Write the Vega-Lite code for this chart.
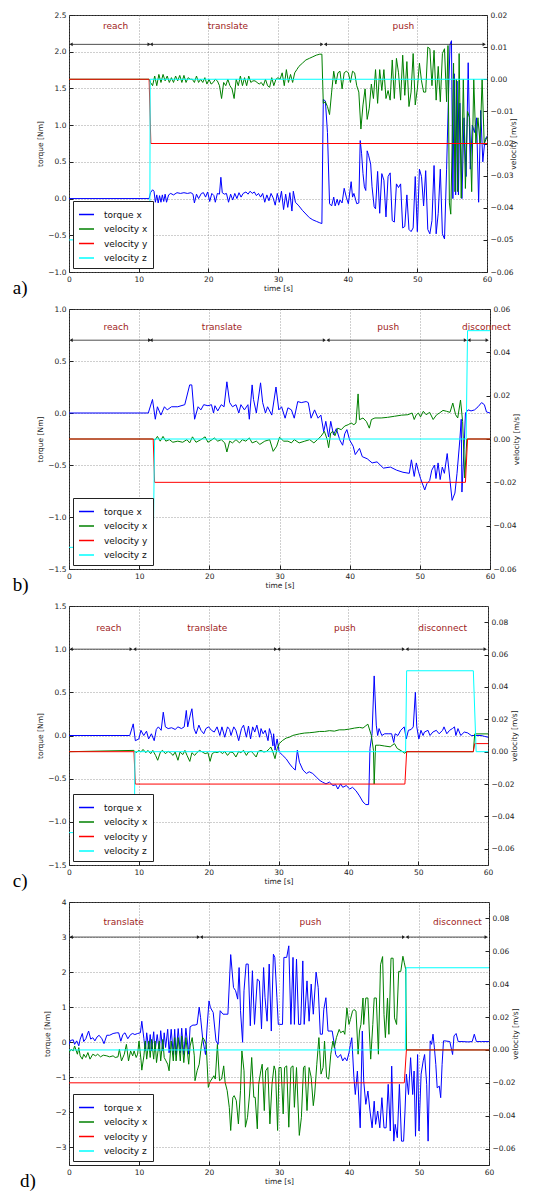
{
"$schema":"https://vega.github.io/schema/vega-lite/v6.json",
"padding":{"left":12,"top":10,"right":0,"bottom":0},
"config":{
 "font":"DejaVu Sans",
 "view":{"stroke":"#222","strokeWidth":1},
 "axis":{"labelFont":"DejaVu Sans","labelFontSize":7.5,"labelColor":"#222","titleFont":"DejaVu Sans","titleFontSize":7.5,"titleFontWeight":"normal","titleColor":"#222","domain":false,"tickColor":"#222","tickSize":-4,"labelPadding":7,"titlePadding":3,"gridColor":"#777","gridDash":[1,2],"gridWidth":0.7,"labelOverlap":false,"labelFlush":false},
 "axisX":{"grid":true,"titlePadding":2},
 "axisRight":{"titlePadding":5},
 "legend":{"orient":"bottom-left","offset":4,"title":null,"fillColor":"white","strokeColor":"#222","padding":5,"symbolType":"stroke","symbolSize":225,"symbolStrokeWidth":1.5,"labelFontSize":9,"labelFont":"DejaVu Sans","labelColor":"#111","rowPadding":0.5,"labelOffset":9},
 "title":{"orient":"bottom","anchor":"start","frame":"bounds","font":"Liberation Serif","fontSize":19,"fontWeight":"normal","color":"#000","offset":-13,"dx":-24}
},
"datasets":{
"ph":[
{"p":"a","n":"reach","t0":0.3,"t1":11.5,"lx":6.7,"ay":2.1,"ly":2.35},
{"p":"a","n":"translate","t0":11.8,"t1":36.3,"lx":22.8,"ay":2.1,"ly":2.35},
{"p":"a","n":"push","t0":36.8,"t1":59.6,"lx":48.0,"ay":2.1,"ly":2.35},
{"p":"b","n":"reach","t0":0.3,"t1":11.5,"lx":6.7,"ay":0.7,"ly":0.83},
{"p":"b","n":"translate","t0":11.7,"t1":36.4,"lx":21.8,"ay":0.7,"ly":0.83},
{"p":"b","n":"push","t0":36.9,"t1":56.5,"lx":45.5,"ay":0.7,"ly":0.83},
{"p":"b","n":"disconnect","t0":57.0,"t1":59.6,"lx":59.5,"ay":0.7,"ly":0.83},
{"p":"c","n":"reach","t0":0.3,"t1":8.9,"lx":5.7,"ay":1.0,"ly":1.24},
{"p":"c","n":"translate","t0":9.4,"t1":29.6,"lx":19.8,"ay":1.0,"ly":1.24},
{"p":"c","n":"push","t0":30.0,"t1":47.9,"lx":39.5,"ay":1.0,"ly":1.24},
{"p":"c","n":"disconnect","t0":48.4,"t1":59.6,"lx":53.5,"ay":1.0,"ly":1.24},
{"p":"d","n":"translate","t0":0.3,"t1":18.5,"lx":7.8,"ay":3,"ly":3.42},
{"p":"d","n":"push","t0":18.9,"t1":47.8,"lx":34.5,"ay":3,"ly":3.42},
{"p":"d","n":"disconnect","t0":48.3,"t1":59.6,"lx":55.5,"ay":3,"ly":3.42}
],
"a":[
{"s":"T","t":0,"v":0},{"s":"T","t":11.5,"v":0},{"s":"T","t":11.7,"v":0.08},{"s":"T","t":12,"v":0.12},{"s":"T","t":12.2,"v":0.1},{"s":"T","t":12.4,"v":-0.05},{"s":"T","t":12.6,"v":0.05},{"s":"T","t":12.8,"v":-0.06},{"s":"T","t":13,"v":0.04},{"s":"T","t":13.2,"v":-0.05},{"s":"T","t":13.4,"v":0.05},{"s":"T","t":13.6,"v":-0.04},{"s":"T","t":13.8,"v":0.06},{"s":"T","t":14,"v":-0.05},{"s":"T","t":14.3,"v":0.05},{"s":"T","t":14.6,"v":0.07},{"s":"T","t":15,"v":0.05},{"s":"T","t":15.5,"v":0.08},{"s":"T","t":16,"v":0.07},{"s":"T","t":16.5,"v":0.08},{"s":"T","t":17,"v":0.07},{"s":"T","t":17.5,"v":0.08},{"s":"T","t":17.8,"v":0.06},{"s":"T","t":18,"v":-0.06},{"s":"T","t":18.3,"v":0.06},{"s":"T","t":18.6,"v":0},{"s":"T","t":19,"v":0.07},{"s":"T","t":19.3,"v":0.08},{"s":"T","t":19.6,"v":0.02},{"s":"T","t":19.9,"v":0.09},{"s":"T","t":20.2,"v":-0.04},{"s":"T","t":20.5,"v":0.07},{"s":"T","t":20.8,"v":0.04},{"s":"T","t":21,"v":-0.05},{"s":"T","t":21.3,"v":0.07},{"s":"T","t":21.6,"v":0.06},{"s":"T","t":21.8,"v":0.29},{"s":"T","t":22,"v":0.08},{"s":"T","t":22.3,"v":0.06},{"s":"T","t":22.6,"v":0.07},{"s":"T","t":22.9,"v":-0.05},{"s":"T","t":23.2,"v":0.06},{"s":"T","t":23.5,"v":-0.02},{"s":"T","t":23.8,"v":0.07},{"s":"T","t":24.1,"v":0},{"s":"T","t":24.4,"v":0.08},{"s":"T","t":24.7,"v":0.02},{"s":"T","t":25,"v":0.07},{"s":"T","t":25.4,"v":0.09},{"s":"T","t":25.7,"v":0.06},{"s":"T","t":26,"v":0.1},{"s":"T","t":26.3,"v":0.07},{"s":"T","t":26.6,"v":0.09},{"s":"T","t":26.9,"v":0.04},{"s":"T","t":27.2,"v":0.07},{"s":"T","t":27.5,"v":0.02},{"s":"T","t":27.8,"v":0.07},{"s":"T","t":28.1,"v":-0.05},{"s":"T","t":28.4,"v":0.05},{"s":"T","t":28.7,"v":-0.03},{"s":"T","t":29,"v":0.07},{"s":"T","t":29.3,"v":0.01},{"s":"T","t":29.6,"v":-0.09},{"s":"T","t":29.9,"v":0.07},{"s":"T","t":30.2,"v":-0.05},{"s":"T","t":30.5,"v":0.1},{"s":"T","t":30.8,"v":-0.15},{"s":"T","t":31.1,"v":0.06},{"s":"T","t":31.4,"v":-0.12},{"s":"T","t":31.7,"v":0.08},{"s":"T","t":32,"v":-0.17},{"s":"T","t":32.2,"v":0.1},{"s":"T","t":32.5,"v":-0.05},{"s":"T","t":33,"v":-0.1},{"s":"T","t":33.5,"v":-0.16},{"s":"T","t":34,"v":-0.21},{"s":"T","t":34.5,"v":-0.26},{"s":"T","t":35,"v":-0.29},{"s":"T","t":35.5,"v":-0.31},{"s":"T","t":36,"v":-0.33},{"s":"T","t":36.3,"v":-0.34},{"s":"T","t":36.5,"v":1.35},{"s":"T","t":36.8,"v":1.33},{"s":"T","t":37.1,"v":0.9},{"s":"T","t":37.4,"v":-0.07},{"s":"T","t":37.7,"v":-0.1},{"s":"T","t":38,"v":0.02},{"s":"T","t":38.2,"v":-0.1},{"s":"T","t":38.5,"v":-0.01},{"s":"T","t":38.7,"v":-0.09},{"s":"T","t":38.9,"v":-0.02},{"s":"T","t":39.2,"v":-0.06},{"s":"T","t":39.5,"v":0.14},{"s":"T","t":39.8,"v":0.02},{"s":"T","t":40.1,"v":-0.07},{"s":"T","t":40.5,"v":0.23},{"s":"T","t":40.7,"v":0.02},{"s":"T","t":40.9,"v":0.07},{"s":"T","t":41.3,"v":-0.07},{"s":"T","t":41.6,"v":-0.06},{"s":"T","t":41.8,"v":0.79},{"s":"T","t":42,"v":0.61},{"s":"T","t":42.2,"v":0.34},{"s":"T","t":42.4,"v":0.16},{"s":"T","t":42.6,"v":0.11},{"s":"T","t":42.8,"v":0.65},{"s":"T","t":43,"v":0.59},{"s":"T","t":43.3,"v":0.47},{"s":"T","t":43.5,"v":0.16},{"s":"T","t":43.8,"v":-0.11},{"s":"T","t":44,"v":-0.14},{"s":"T","t":44.3,"v":0.37},{"s":"T","t":44.6,"v":-0.2},{"s":"T","t":44.9,"v":0.34},{"s":"T","t":45.2,"v":0.25},{"s":"T","t":45.5,"v":-0.25},{"s":"T","t":45.8,"v":0.3},{"s":"T","t":46.1,"v":0.35},{"s":"T","t":46.4,"v":-0.3},{"s":"T","t":46.7,"v":-0.32},{"s":"T","t":47,"v":0.2},{"s":"T","t":47.3,"v":0.15},{"s":"T","t":47.6,"v":0.2},{"s":"T","t":47.9,"v":-0.4},{"s":"T","t":48.2,"v":-0.38},{"s":"T","t":48.5,"v":0.05},{"s":"T","t":48.8,"v":-0.42},{"s":"T","t":49.1,"v":-0.45},{"s":"T","t":49.4,"v":-0.4},{"s":"T","t":49.7,"v":0.3},{"s":"T","t":50,"v":-0.45},{"s":"T","t":50.3,"v":0.4},{"s":"T","t":50.6,"v":0.3},{"s":"T","t":50.9,"v":-0.1},{"s":"T","t":51.2,"v":0.38},{"s":"T","t":51.5,"v":-0.42},{"s":"T","t":51.8,"v":-0.48},{"s":"T","t":52.1,"v":-0.3},{"s":"T","t":52.4,"v":0.45},{"s":"T","t":52.7,"v":-0.48},{"s":"T","t":53,"v":-0.2},{"s":"T","t":53.3,"v":0.4},{"s":"T","t":53.6,"v":-0.48},{"s":"T","t":53.9,"v":-0.55},{"s":"T","t":54.2,"v":0.4},{"s":"T","t":54.5,"v":1.5},{"s":"T","t":54.7,"v":2.1},{"s":"T","t":54.9,"v":2.15},{"s":"T","t":55.1,"v":0},{"s":"T","t":55.3,"v":1.7},{"s":"T","t":55.5,"v":0.05},{"s":"T","t":55.7,"v":1.6},{"s":"T","t":55.9,"v":0.05},{"s":"T","t":56.1,"v":1.3},{"s":"T","t":56.4,"v":0},{"s":"T","t":56.7,"v":1.1},{"s":"T","t":57,"v":0.3},{"s":"T","t":57.3,"v":1.85},{"s":"T","t":57.6,"v":0.4},{"s":"T","t":57.9,"v":1},{"s":"T","t":58.2,"v":0.9},{"s":"T","t":58.5,"v":1.1},{"s":"T","t":58.8,"v":-0.05},{"s":"T","t":59.1,"v":1.2},{"s":"T","t":59.4,"v":0.5},{"s":"T","t":59.7,"v":0.8},{"s":"T","t":60,"v":0.85},
{"s":"X","t":0,"v":0},{"s":"X","t":11.5,"v":0},{"s":"X","t":11.7,"v":-0.001},{"s":"X","t":12,"v":-0.002},{"s":"X","t":12.3,"v":0.001},{"s":"X","t":12.6,"v":-0.002},{"s":"X","t":12.9,"v":0.0015},{"s":"X","t":13.2,"v":-0.001},{"s":"X","t":13.5,"v":0.0015},{"s":"X","t":13.8,"v":-0.0005},{"s":"X","t":14.1,"v":0.001},{"s":"X","t":14.4,"v":-0.001},{"s":"X","t":14.7,"v":0.0005},{"s":"X","t":15,"v":-0.001},{"s":"X","t":15.3,"v":0.001},{"s":"X","t":15.6,"v":-0.0005},{"s":"X","t":15.9,"v":0.0012},{"s":"X","t":16.2,"v":-0.001},{"s":"X","t":16.5,"v":0.0012},{"s":"X","t":16.8,"v":-0.001},{"s":"X","t":17.1,"v":0.0005},{"s":"X","t":17.4,"v":0},{"s":"X","t":17.7,"v":0},{"s":"X","t":18,"v":-0.001},{"s":"X","t":18.3,"v":0.001},{"s":"X","t":18.6,"v":-0.001},{"s":"X","t":18.9,"v":0},{"s":"X","t":19.2,"v":-0.001},{"s":"X","t":19.5,"v":0.0005},{"s":"X","t":19.8,"v":-0.0015},{"s":"X","t":20.1,"v":0},{"s":"X","t":20.4,"v":-0.0015},{"s":"X","t":20.7,"v":-0.001},{"s":"X","t":21,"v":0},{"s":"X","t":21.3,"v":-0.0005},{"s":"X","t":21.6,"v":-0.002},{"s":"X","t":21.9,"v":-0.006},{"s":"X","t":22.2,"v":-0.001},{"s":"X","t":22.5,"v":-0.002},{"s":"X","t":22.8,"v":0},{"s":"X","t":23.1,"v":-0.002},{"s":"X","t":23.4,"v":-0.003},{"s":"X","t":23.7,"v":-0.006},{"s":"X","t":24,"v":0},{"s":"X","t":24.3,"v":-0.002},{"s":"X","t":24.6,"v":0.001},{"s":"X","t":24.9,"v":-0.002},{"s":"X","t":25.2,"v":0.0005},{"s":"X","t":25.5,"v":-0.002},{"s":"X","t":25.8,"v":0.001},{"s":"X","t":26.1,"v":-0.001},{"s":"X","t":26.4,"v":-0.0005},{"s":"X","t":26.7,"v":-0.0005},{"s":"X","t":27,"v":-0.001},{"s":"X","t":27.3,"v":-0.0015},{"s":"X","t":27.6,"v":-0.001},{"s":"X","t":27.9,"v":-0.002},{"s":"X","t":28.2,"v":0},{"s":"X","t":28.5,"v":-0.002},{"s":"X","t":28.8,"v":-0.0025},{"s":"X","t":29.1,"v":0.0005},{"s":"X","t":29.4,"v":-0.002},{"s":"X","t":29.7,"v":0},{"s":"X","t":30,"v":0.0005},{"s":"X","t":30.3,"v":0},{"s":"X","t":30.6,"v":0.002},{"s":"X","t":30.9,"v":-0.002},{"s":"X","t":31.2,"v":0.003},{"s":"X","t":31.5,"v":-0.001},{"s":"X","t":31.8,"v":0.0015},{"s":"X","t":32.1,"v":-0.001},{"s":"X","t":32.4,"v":0.002},{"s":"X","t":32.7,"v":0.003},{"s":"X","t":33,"v":0.004},{"s":"X","t":33.5,"v":0.005},{"s":"X","t":34,"v":0.006},{"s":"X","t":34.5,"v":0.0065},{"s":"X","t":35,"v":0.007},{"s":"X","t":35.5,"v":0.0075},{"s":"X","t":36,"v":0.0078},{"s":"X","t":36.3,"v":0.0078},{"s":"X","t":36.5,"v":-0.0075},{"s":"X","t":36.8,"v":-0.007},{"s":"X","t":37.1,"v":-0.0085},{"s":"X","t":37.4,"v":-0.011},{"s":"X","t":37.7,"v":-0.004},{"s":"X","t":38,"v":0.0025},{"s":"X","t":38.3,"v":-0.0015},{"s":"X","t":38.6,"v":0.002},{"s":"X","t":38.9,"v":0.0025},{"s":"X","t":39.2,"v":-0.003},{"s":"X","t":39.5,"v":0.002},{"s":"X","t":39.8,"v":0.0025},{"s":"X","t":40.1,"v":0.002},{"s":"X","t":40.4,"v":-0.001},{"s":"X","t":40.7,"v":0.0025},{"s":"X","t":41,"v":0.002},{"s":"X","t":41.3,"v":-0.002},{"s":"X","t":41.6,"v":-0.004},{"s":"X","t":41.9,"v":-0.0155},{"s":"X","t":42.2,"v":-0.008},{"s":"X","t":42.5,"v":-0.003},{"s":"X","t":42.8,"v":-0.0125},{"s":"X","t":43.1,"v":-0.009},{"s":"X","t":43.4,"v":-0.0015},{"s":"X","t":43.7,"v":-0.006},{"s":"X","t":44,"v":0.003},{"s":"X","t":44.3,"v":-0.0075},{"s":"X","t":44.6,"v":0.003},{"s":"X","t":44.9,"v":-0.0035},{"s":"X","t":45.2,"v":0.003},{"s":"X","t":45.5,"v":-0.006},{"s":"X","t":45.8,"v":-0.0035},{"s":"X","t":46.1,"v":-0.0065},{"s":"X","t":46.4,"v":0.006},{"s":"X","t":46.7,"v":-0.006},{"s":"X","t":47,"v":0.0065},{"s":"X","t":47.3,"v":0.002},{"s":"X","t":47.6,"v":-0.0065},{"s":"X","t":47.9,"v":0.0075},{"s":"X","t":48.2,"v":-0.005},{"s":"X","t":48.5,"v":0.0055},{"s":"X","t":48.8,"v":-0.0085},{"s":"X","t":49.1,"v":-0.004},{"s":"X","t":49.4,"v":0.008},{"s":"X","t":49.7,"v":-0.008},{"s":"X","t":50,"v":-0.003},{"s":"X","t":50.3,"v":0.005},{"s":"X","t":50.6,"v":-0.0005},{"s":"X","t":50.9,"v":-0.004},{"s":"X","t":51.2,"v":-0.004},{"s":"X","t":51.5,"v":0.01},{"s":"X","t":51.8,"v":0.0095},{"s":"X","t":52.1,"v":-0.002},{"s":"X","t":52.4,"v":0.009},{"s":"X","t":52.7,"v":-0.0065},{"s":"X","t":53,"v":0.004},{"s":"X","t":53.3,"v":-0.007},{"s":"X","t":53.6,"v":0.008},{"s":"X","t":53.9,"v":0.0095},{"s":"X","t":54.2,"v":-0.007},{"s":"X","t":54.4,"v":0.0105},{"s":"X","t":54.6,"v":-0.0385},{"s":"X","t":54.8,"v":-0.042},{"s":"X","t":55,"v":-0.02},{"s":"X","t":55.2,"v":0.005},{"s":"X","t":55.4,"v":-0.035},{"s":"X","t":55.6,"v":0},{"s":"X","t":55.8,"v":-0.035},{"s":"X","t":56,"v":0.008},{"s":"X","t":56.3,"v":-0.037},{"s":"X","t":56.6,"v":0},{"s":"X","t":56.9,"v":-0.034},{"s":"X","t":57.2,"v":-0.01},{"s":"X","t":57.5,"v":-0.012},{"s":"X","t":57.8,"v":-0.035},{"s":"X","t":58.1,"v":0},{"s":"X","t":58.4,"v":-0.02},{"s":"X","t":58.7,"v":-0.012},{"s":"X","t":59,"v":-0.02},{"s":"X","t":59.3,"v":0},{"s":"X","t":59.6,"v":-0.02},{"s":"X","t":60,"v":-0.018},
{"s":"Y","t":0,"v":0},{"s":"Y","t":11.5,"v":0},{"s":"Y","t":11.75,"v":-0.02},{"s":"Y","t":60,"v":-0.02},
{"s":"Z","t":0,"v":-0.05},{"s":"Z","t":11.6,"v":-0.05},{"s":"Z","t":11.65,"v":0},{"s":"Z","t":60,"v":0}
],
"b":[
{"s":"T","t":0,"v":0},{"s":"T","t":11.3,"v":0},{"s":"T","t":11.9,"v":0.13},{"s":"T","t":12.3,"v":-0.06},{"s":"T","t":12.6,"v":0.06},{"s":"T","t":13.1,"v":-0.02},{"s":"T","t":13.6,"v":0.06},{"s":"T","t":14,"v":0.03},{"s":"T","t":14.6,"v":0.06},{"s":"T","t":15.5,"v":0.06},{"s":"T","t":16.5,"v":0.08},{"s":"T","t":17.2,"v":0.27},{"s":"T","t":17.5,"v":0.27},{"s":"T","t":17.9,"v":-0.06},{"s":"T","t":18.4,"v":0.06},{"s":"T","t":18.8,"v":0.03},{"s":"T","t":19.2,"v":0.08},{"s":"T","t":19.8,"v":0.07},{"s":"T","t":20.3,"v":0.08},{"s":"T","t":20.6,"v":0},{"s":"T","t":20.8,"v":0.07},{"s":"T","t":21.2,"v":0.02},{"s":"T","t":21.7,"v":0.08},{"s":"T","t":22.1,"v":0.06},{"s":"T","t":22.5,"v":0.3},{"s":"T","t":22.9,"v":0.1},{"s":"T","t":23.3,"v":0.06},{"s":"T","t":23.8,"v":0.08},{"s":"T","t":24.2,"v":0},{"s":"T","t":24.5,"v":0.08},{"s":"T","t":25,"v":0.03},{"s":"T","t":25.5,"v":0.08},{"s":"T","t":25.7,"v":-0.06},{"s":"T","t":26.1,"v":0.27},{"s":"T","t":26.3,"v":0.13},{"s":"T","t":26.7,"v":0},{"s":"T","t":27.3,"v":0.29},{"s":"T","t":27.6,"v":0.1},{"s":"T","t":28,"v":0},{"s":"T","t":28.3,"v":0.06},{"s":"T","t":28.9,"v":-0.02},{"s":"T","t":29.5,"v":0.25},{"s":"T","t":29.9,"v":0.03},{"s":"T","t":30.3,"v":0.06},{"s":"T","t":30.8,"v":-0.05},{"s":"T","t":31.2,"v":0.05},{"s":"T","t":31.7,"v":0.03},{"s":"T","t":32.1,"v":-0.05},{"s":"T","t":32.6,"v":0.11},{"s":"T","t":33.1,"v":0.1},{"s":"T","t":33.8,"v":0.11},{"s":"T","t":34.1,"v":0.1},{"s":"T","t":34.5,"v":-0.05},{"s":"T","t":35,"v":0.03},{"s":"T","t":35.5,"v":-0.05},{"s":"T","t":35.9,"v":-0.02},{"s":"T","t":36.3,"v":-0.18},{"s":"T","t":36.6,"v":-0.08},{"s":"T","t":37,"v":-0.23},{"s":"T","t":37.3,"v":-0.08},{"s":"T","t":37.7,"v":-0.21},{"s":"T","t":38.1,"v":-0.15},{"s":"T","t":38.6,"v":-0.26},{"s":"T","t":39,"v":-0.31},{"s":"T","t":39.3,"v":-0.2},{"s":"T","t":39.6,"v":-0.16},{"s":"T","t":40,"v":-0.26},{"s":"T","t":40.5,"v":-0.32},{"s":"T","t":40.8,"v":-0.4},{"s":"T","t":41.4,"v":-0.34},{"s":"T","t":41.8,"v":-0.42},{"s":"T","t":42.5,"v":-0.44},{"s":"T","t":43.2,"v":-0.48},{"s":"T","t":43.9,"v":-0.47},{"s":"T","t":44.8,"v":-0.53},{"s":"T","t":45.8,"v":-0.52},{"s":"T","t":46.7,"v":-0.55},{"s":"T","t":47.6,"v":-0.57},{"s":"T","t":48.5,"v":-0.58},{"s":"T","t":48.8,"v":-0.45},{"s":"T","t":49.2,"v":-0.61},{"s":"T","t":49.5,"v":-0.48},{"s":"T","t":49.8,"v":-0.56},{"s":"T","t":50.1,"v":-0.63},{"s":"T","t":50.7,"v":-0.74},{"s":"T","t":51,"v":-0.68},{"s":"T","t":51.4,"v":-0.65},{"s":"T","t":51.7,"v":-0.55},{"s":"T","t":52.1,"v":-0.5},{"s":"T","t":52.3,"v":-0.63},{"s":"T","t":52.6,"v":-0.48},{"s":"T","t":52.9,"v":-0.64},{"s":"T","t":53.2,"v":-0.52},{"s":"T","t":53.5,"v":-0.58},{"s":"T","t":53.9,"v":-0.39},{"s":"T","t":54.3,"v":-0.65},{"s":"T","t":54.6,"v":-0.84},{"s":"T","t":55,"v":-0.77},{"s":"T","t":55.3,"v":-0.58},{"s":"T","t":55.7,"v":-0.26},{"s":"T","t":55.9,"v":-0.06},{"s":"T","t":56,"v":-0.76},{"s":"T","t":56.3,"v":-0.35},{"s":"T","t":56.5,"v":0},{"s":"T","t":56.9,"v":0.03},{"s":"T","t":57.3,"v":0.02},{"s":"T","t":57.8,"v":0.03},{"s":"T","t":58.3,"v":0.06},{"s":"T","t":58.8,"v":0.1},{"s":"T","t":59.2,"v":0.08},{"s":"T","t":59.5,"v":0.01},{"s":"T","t":60,"v":0},
{"s":"X","t":0,"v":0},{"s":"X","t":11.9,"v":0},{"s":"X","t":12.3,"v":-0.0003},{"s":"X","t":12.6,"v":0.0012},{"s":"X","t":13,"v":-0.001},{"s":"X","t":13.4,"v":0.0012},{"s":"X","t":13.8,"v":-0.001},{"s":"X","t":14.3,"v":-0.0003},{"s":"X","t":14.8,"v":-0.0015},{"s":"X","t":15.5,"v":-0.001},{"s":"X","t":16.2,"v":-0.0015},{"s":"X","t":16.8,"v":-0.0003},{"s":"X","t":17.2,"v":-0.0018},{"s":"X","t":17.6,"v":0.001},{"s":"X","t":18.1,"v":-0.0015},{"s":"X","t":18.8,"v":-0.0003},{"s":"X","t":19.4,"v":0.001},{"s":"X","t":19.8,"v":-0.0015},{"s":"X","t":20.4,"v":-0.0003},{"s":"X","t":20.7,"v":0.0005},{"s":"X","t":21.2,"v":-0.001},{"s":"X","t":21.7,"v":-0.0003},{"s":"X","t":22.2,"v":-0.0018},{"s":"X","t":22.5,"v":-0.006},{"s":"X","t":22.9,"v":-0.001},{"s":"X","t":23.3,"v":-0.0018},{"s":"X","t":23.8,"v":-0.0003},{"s":"X","t":24.3,"v":-0.0018},{"s":"X","t":24.7,"v":-0.0003},{"s":"X","t":25.2,"v":-0.001},{"s":"X","t":25.7,"v":0.0005},{"s":"X","t":26.1,"v":-0.0018},{"s":"X","t":26.7,"v":-0.001},{"s":"X","t":27.2,"v":-0.0025},{"s":"X","t":27.9,"v":-0.001},{"s":"X","t":28.6,"v":-0.0003},{"s":"X","t":29.1,"v":-0.0057},{"s":"X","t":29.6,"v":-0.0033},{"s":"X","t":30,"v":0.0008},{"s":"X","t":30.6,"v":-0.001},{"s":"X","t":31.2,"v":-0.001},{"s":"X","t":31.7,"v":-0.0018},{"s":"X","t":32.1,"v":-0.0003},{"s":"X","t":32.8,"v":-0.0018},{"s":"X","t":33.6,"v":-0.001},{"s":"X","t":34.3,"v":-0.0003},{"s":"X","t":34.9,"v":-0.0018},{"s":"X","t":35.4,"v":-0.0003},{"s":"X","t":35.9,"v":0.0012},{"s":"X","t":36.4,"v":0.0035},{"s":"X","t":36.8,"v":-0.0003},{"s":"X","t":37,"v":-0.004},{"s":"X","t":37.3,"v":0.0028},{"s":"X","t":37.6,"v":0.0035},{"s":"X","t":37.9,"v":0.0015},{"s":"X","t":38.3,"v":0.005},{"s":"X","t":38.8,"v":0.0043},{"s":"X","t":39.3,"v":0.006},{"s":"X","t":39.8,"v":0.0066},{"s":"X","t":40.2,"v":0.0074},{"s":"X","t":40.6,"v":0.0066},{"s":"X","t":40.9,"v":0.0074},{"s":"X","t":41.2,"v":0.0208},{"s":"X","t":41.4,"v":0.0089},{"s":"X","t":41.9,"v":0.0097},{"s":"X","t":42.4,"v":0.008},{"s":"X","t":42.8,"v":0.005},{"s":"X","t":43.1,"v":0.009},{"s":"X","t":43.6,"v":0.0097},{"s":"X","t":44.5,"v":0.0097},{"s":"X","t":45.4,"v":0.01},{"s":"X","t":46.4,"v":0.0105},{"s":"X","t":47.4,"v":0.011},{"s":"X","t":48.3,"v":0.0112},{"s":"X","t":48.9,"v":0.012},{"s":"X","t":49.2,"v":0.009},{"s":"X","t":49.5,"v":0.0112},{"s":"X","t":49.8,"v":0.012},{"s":"X","t":50.1,"v":0.0102},{"s":"X","t":50.5,"v":0.0128},{"s":"X","t":50.9,"v":0.0112},{"s":"X","t":51.4,"v":0.0123},{"s":"X","t":51.9,"v":0.009},{"s":"X","t":52.4,"v":0.0112},{"s":"X","t":52.8,"v":0.012},{"s":"X","t":53.3,"v":0.0132},{"s":"X","t":53.8,"v":0.0128},{"s":"X","t":54.3,"v":0.0123},{"s":"X","t":54.7,"v":0.0166},{"s":"X","t":55.1,"v":0.0112},{"s":"X","t":55.4,"v":0.0097},{"s":"X","t":55.8,"v":0.018},{"s":"X","t":56.1,"v":0.008},{"s":"X","t":56.4,"v":-0.018},{"s":"X","t":56.7,"v":0},{"s":"X","t":60,"v":0},
{"s":"Y","t":0,"v":0},{"s":"Y","t":12,"v":0},{"s":"Y","t":12.2,"v":-0.02},{"s":"Y","t":56.5,"v":-0.02},{"s":"Y","t":56.8,"v":0},{"s":"Y","t":60,"v":0},
{"s":"Z","t":0,"v":-0.05},{"s":"Z","t":12,"v":-0.05},{"s":"Z","t":12.2,"v":0},{"s":"Z","t":56.6,"v":0},{"s":"Z","t":56.8,"v":0.05},{"s":"Z","t":60,"v":0.05}
],
"c":[
{"s":"T","t":0,"v":0},{"s":"T","t":8.7,"v":0},{"s":"T","t":9.2,"v":0.135},{"s":"T","t":9.5,"v":-0.06},{"s":"T","t":10,"v":-0.04},{"s":"T","t":10.3,"v":0.06},{"s":"T","t":10.7,"v":0},{"s":"T","t":11.1,"v":0.05},{"s":"T","t":11.4,"v":-0.04},{"s":"T","t":11.8,"v":0.02},{"s":"T","t":12.2,"v":-0.06},{"s":"T","t":12.5,"v":0.07},{"s":"T","t":12.8,"v":0.1},{"s":"T","t":13.2,"v":0.06},{"s":"T","t":13.5,"v":0.27},{"s":"T","t":13.8,"v":0.1},{"s":"T","t":14.2,"v":0.08},{"s":"T","t":14.7,"v":0.09},{"s":"T","t":15.2,"v":0.07},{"s":"T","t":15.6,"v":0.1},{"s":"T","t":16.1,"v":0.08},{"s":"T","t":16.5,"v":0.1},{"s":"T","t":16.8,"v":0.29},{"s":"T","t":17,"v":0.1},{"s":"T","t":17.4,"v":0.25},{"s":"T","t":17.6,"v":0.31},{"s":"T","t":17.9,"v":0.08},{"s":"T","t":18.2,"v":0.02},{"s":"T","t":18.6,"v":0.12},{"s":"T","t":18.9,"v":0.06},{"s":"T","t":19.3,"v":0.02},{"s":"T","t":19.6,"v":0.08},{"s":"T","t":20,"v":0.1},{"s":"T","t":20.4,"v":0.06},{"s":"T","t":20.8,"v":0.04},{"s":"T","t":21.2,"v":0.1},{"s":"T","t":21.6,"v":0},{"s":"T","t":21.9,"v":0.1},{"s":"T","t":22.3,"v":-0.02},{"s":"T","t":22.7,"v":0.1},{"s":"T","t":23,"v":0.07},{"s":"T","t":23.2,"v":0},{"s":"T","t":23.6,"v":0.1},{"s":"T","t":23.9,"v":0.06},{"s":"T","t":24.3,"v":-0.06},{"s":"T","t":24.7,"v":0.08},{"s":"T","t":25,"v":0.12},{"s":"T","t":25.4,"v":-0.02},{"s":"T","t":25.7,"v":0.11},{"s":"T","t":26,"v":-0.04},{"s":"T","t":26.3,"v":0.1},{"s":"T","t":26.6,"v":0.04},{"s":"T","t":26.9,"v":0.12},{"s":"T","t":27.3,"v":-0.02},{"s":"T","t":27.5,"v":0.08},{"s":"T","t":27.8,"v":0.02},{"s":"T","t":28.1,"v":0.06},{"s":"T","t":28.5,"v":-0.06},{"s":"T","t":28.7,"v":0.08},{"s":"T","t":29,"v":0},{"s":"T","t":29.2,"v":-0.12},{"s":"T","t":29.3,"v":0.02},{"s":"T","t":29.5,"v":-0.17},{"s":"T","t":29.8,"v":-0.04},{"s":"T","t":30.1,"v":-0.19},{"s":"T","t":30.6,"v":-0.23},{"s":"T","t":31.1,"v":-0.27},{"s":"T","t":31.6,"v":-0.33},{"s":"T","t":32,"v":-0.37},{"s":"T","t":32.4,"v":-0.4},{"s":"T","t":32.7,"v":-0.17},{"s":"T","t":33,"v":-0.31},{"s":"T","t":33.5,"v":-0.4},{"s":"T","t":34,"v":-0.44},{"s":"T","t":34.4,"v":-0.42},{"s":"T","t":34.9,"v":-0.44},{"s":"T","t":35.4,"v":-0.48},{"s":"T","t":35.9,"v":-0.52},{"s":"T","t":36.3,"v":-0.54},{"s":"T","t":36.8,"v":-0.56},{"s":"T","t":37.3,"v":-0.54},{"s":"T","t":37.8,"v":-0.58},{"s":"T","t":38.2,"v":-0.57},{"s":"T","t":38.5,"v":-0.62},{"s":"T","t":38.9,"v":-0.56},{"s":"T","t":39.2,"v":-0.6},{"s":"T","t":39.7,"v":-0.58},{"s":"T","t":40.2,"v":-0.62},{"s":"T","t":40.6,"v":-0.6},{"s":"T","t":41.1,"v":-0.64},{"s":"T","t":41.6,"v":-0.7},{"s":"T","t":42.1,"v":-0.77},{"s":"T","t":42.5,"v":-0.8},{"s":"T","t":42.9,"v":-0.8},{"s":"T","t":43.1,"v":-0.15},{"s":"T","t":43.4,"v":0.02},{"s":"T","t":43.7,"v":0.69},{"s":"T","t":44,"v":0.12},{"s":"T","t":44.2,"v":0},{"s":"T","t":44.4,"v":0.08},{"s":"T","t":44.8,"v":0},{"s":"T","t":45.2,"v":0.02},{"s":"T","t":45.7,"v":0.02},{"s":"T","t":46.2,"v":0.02},{"s":"T","t":46.5,"v":-0.08},{"s":"T","t":46.7,"v":0.02},{"s":"T","t":47.1,"v":0},{"s":"T","t":47.5,"v":0.06},{"s":"T","t":48,"v":0.1},{"s":"T","t":48.3,"v":-0.04},{"s":"T","t":48.6,"v":0.06},{"s":"T","t":49,"v":0.07},{"s":"T","t":49.3,"v":0.1},{"s":"T","t":49.6,"v":0.5},{"s":"T","t":49.8,"v":0.1},{"s":"T","t":50.1,"v":-0.04},{"s":"T","t":50.4,"v":0.06},{"s":"T","t":50.7,"v":0},{"s":"T","t":50.9,"v":0.04},{"s":"T","t":51.4,"v":0.06},{"s":"T","t":51.7,"v":0},{"s":"T","t":52.1,"v":0.04},{"s":"T","t":52.6,"v":0.06},{"s":"T","t":53,"v":0.02},{"s":"T","t":53.5,"v":0.06},{"s":"T","t":53.7,"v":0.1},{"s":"T","t":54.1,"v":0.02},{"s":"T","t":54.5,"v":0.06},{"s":"T","t":54.9,"v":0.08},{"s":"T","t":55.2,"v":0.1},{"s":"T","t":55.4,"v":0},{"s":"T","t":55.7,"v":0.08},{"s":"T","t":56.1,"v":0},{"s":"T","t":56.6,"v":0.04},{"s":"T","t":57.1,"v":0.03},{"s":"T","t":57.6,"v":0},{"s":"T","t":58.1,"v":0},{"s":"T","t":59,"v":0},{"s":"T","t":59.5,"v":-0.01},{"s":"T","t":60,"v":-0.02},
{"s":"X","t":0,"v":0},{"s":"X","t":9.3,"v":0.0008},{"s":"X","t":9.6,"v":-0.0006},{"s":"X","t":10,"v":0.0008},{"s":"X","t":10.3,"v":-0.0002},{"s":"X","t":10.6,"v":0.0014},{"s":"X","t":11,"v":-0.0006},{"s":"X","t":11.3,"v":0.0008},{"s":"X","t":11.7,"v":-0.0012},{"s":"X","t":12,"v":0.0008},{"s":"X","t":12.4,"v":-0.0023},{"s":"X","t":12.7,"v":-0.0053},{"s":"X","t":13.1,"v":-0.0002},{"s":"X","t":13.4,"v":0.0008},{"s":"X","t":13.8,"v":-0.0012},{"s":"X","t":14.2,"v":0.0002},{"s":"X","t":14.5,"v":-0.0006},{"s":"X","t":14.9,"v":-0.0023},{"s":"X","t":15.2,"v":-0.0002},{"s":"X","t":15.6,"v":-0.0053},{"s":"X","t":15.9,"v":-0.0002},{"s":"X","t":16.3,"v":-0.0018},{"s":"X","t":16.6,"v":0.0008},{"s":"X","t":16.9,"v":-0.0023},{"s":"X","t":17.3,"v":-0.006},{"s":"X","t":17.6,"v":-0.0006},{"s":"X","t":18,"v":-0.0023},{"s":"X","t":18.3,"v":-0.0006},{"s":"X","t":18.7,"v":0.0008},{"s":"X","t":19.1,"v":-0.0002},{"s":"X","t":19.5,"v":-0.0012},{"s":"X","t":19.9,"v":-0.0006},{"s":"X","t":20.2,"v":-0.006},{"s":"X","t":20.5,"v":-0.0012},{"s":"X","t":20.9,"v":-0.0002},{"s":"X","t":21.2,"v":-0.0006},{"s":"X","t":21.6,"v":0.0002},{"s":"X","t":22,"v":-0.0012},{"s":"X","t":22.3,"v":0.0002},{"s":"X","t":22.7,"v":-0.0023},{"s":"X","t":23.1,"v":-0.0002},{"s":"X","t":23.5,"v":-0.0006},{"s":"X","t":23.9,"v":-0.0033},{"s":"X","t":24.3,"v":0.0002},{"s":"X","t":24.6,"v":-0.0006},{"s":"X","t":25,"v":0.0008},{"s":"X","t":25.4,"v":-0.0023},{"s":"X","t":25.7,"v":-0.0002},{"s":"X","t":26.1,"v":0.0002},{"s":"X","t":26.4,"v":-0.0012},{"s":"X","t":26.8,"v":-0.0033},{"s":"X","t":27.1,"v":0.0002},{"s":"X","t":27.5,"v":0.0008},{"s":"X","t":27.9,"v":-0.0002},{"s":"X","t":28.3,"v":0.0002},{"s":"X","t":28.7,"v":0.0018},{"s":"X","t":28.9,"v":0.0029},{"s":"X","t":29.2,"v":-0.0002},{"s":"X","t":29.5,"v":-0.0043},{"s":"X","t":29.8,"v":0.0018},{"s":"X","t":30.1,"v":0.005},{"s":"X","t":30.6,"v":0.007},{"s":"X","t":31.1,"v":0.0084},{"s":"X","t":31.6,"v":0.009},{"s":"X","t":32,"v":0.01},{"s":"X","t":32.5,"v":0.0105},{"s":"X","t":33,"v":0.011},{"s":"X","t":33.7,"v":0.0115},{"s":"X","t":34.4,"v":0.0117},{"s":"X","t":35.1,"v":0.012},{"s":"X","t":35.9,"v":0.0125},{"s":"X","t":36.6,"v":0.0125},{"s":"X","t":37.3,"v":0.013},{"s":"X","t":38,"v":0.0127},{"s":"X","t":38.7,"v":0.0135},{"s":"X","t":39.4,"v":0.0135},{"s":"X","t":40.2,"v":0.014},{"s":"X","t":40.9,"v":0.0146},{"s":"X","t":41.6,"v":0.015},{"s":"X","t":42.1,"v":0.0146},{"s":"X","t":42.5,"v":0.016},{"s":"X","t":42.8,"v":0.017},{"s":"X","t":43.3,"v":0.01},{"s":"X","t":43.6,"v":0.0008},{"s":"X","t":43.7,"v":-0.02},{"s":"X","t":43.9,"v":0.004},{"s":"X","t":44.5,"v":0.004},{"s":"X","t":45.2,"v":0.0035},{"s":"X","t":46,"v":0.003},{"s":"X","t":46.6,"v":0.005},{"s":"X","t":47,"v":0.002},{"s":"X","t":47.6,"v":0.0005},{"s":"X","t":48.1,"v":-0.001},{"s":"X","t":48.3,"v":0},{"s":"X","t":57.9,"v":0},{"s":"X","t":58.1,"v":0.011},{"s":"X","t":60,"v":0.011},
{"s":"Y","t":0,"v":0},{"s":"Y","t":9.3,"v":0},{"s":"Y","t":9.5,"v":-0.02},{"s":"Y","t":48.1,"v":-0.02},{"s":"Y","t":48.35,"v":0},{"s":"Y","t":57.9,"v":0},{"s":"Y","t":58.1,"v":0.005},{"s":"Y","t":60,"v":0.005},
{"s":"Z","t":0,"v":-0.05},{"s":"Z","t":9.35,"v":-0.05},{"s":"Z","t":9.45,"v":0},{"s":"Z","t":48.2,"v":0},{"s":"Z","t":48.35,"v":0.05},{"s":"Z","t":57.9,"v":0.05},{"s":"Z","t":58.3,"v":0},{"s":"Z","t":60,"v":0}
],
"d":[
{"s":"T","t":0,"v":-0.06},{"s":"T","t":0.2,"v":0.05},{"s":"T","t":0.6,"v":0.07},{"s":"T","t":0.8,"v":-0.06},{"s":"T","t":1.1,"v":0.04},{"s":"T","t":1.4,"v":-0.1},{"s":"T","t":1.6,"v":0.09},{"s":"T","t":1.9,"v":0.25},{"s":"T","t":2.1,"v":0.02},{"s":"T","t":2.4,"v":0.1},{"s":"T","t":2.8,"v":0.32},{"s":"T","t":3.1,"v":0.09},{"s":"T","t":3.4,"v":0.13},{"s":"T","t":3.7,"v":0.04},{"s":"T","t":4,"v":0.15},{"s":"T","t":4.3,"v":0.2},{"s":"T","t":4.7,"v":0.1},{"s":"T","t":5,"v":-0.04},{"s":"T","t":5.4,"v":0.2},{"s":"T","t":5.8,"v":0.2},{"s":"T","t":6.3,"v":0.25},{"s":"T","t":6.8,"v":0.27},{"s":"T","t":7.1,"v":0.27},{"s":"T","t":7.4,"v":0.03},{"s":"T","t":7.7,"v":0.22},{"s":"T","t":8,"v":0.27},{"s":"T","t":8.4,"v":0.1},{"s":"T","t":8.8,"v":0.22},{"s":"T","t":9.1,"v":0.25},{"s":"T","t":9.4,"v":0.22},{"s":"T","t":9.8,"v":0.25},{"s":"T","t":10.2,"v":0.27},{"s":"T","t":10.4,"v":0.6},{"s":"T","t":10.7,"v":0.1},{"s":"T","t":10.9,"v":-0.25},{"s":"T","t":11.1,"v":0.27},{"s":"T","t":11.4,"v":-0.2},{"s":"T","t":11.6,"v":0.22},{"s":"T","t":11.8,"v":-0.25},{"s":"T","t":12.1,"v":0.3},{"s":"T","t":12.3,"v":-0.25},{"s":"T","t":12.6,"v":0.22},{"s":"T","t":12.9,"v":-0.25},{"s":"T","t":13.1,"v":0.33},{"s":"T","t":13.4,"v":-0.25},{"s":"T","t":13.6,"v":0.27},{"s":"T","t":13.8,"v":-0.15},{"s":"T","t":14.1,"v":0.37},{"s":"T","t":14.3,"v":-0.3},{"s":"T","t":14.6,"v":0.37},{"s":"T","t":14.9,"v":-0.35},{"s":"T","t":15.1,"v":0.37},{"s":"T","t":15.3,"v":-0.35},{"s":"T","t":15.6,"v":0.39},{"s":"T","t":15.9,"v":-0.3},{"s":"T","t":16.1,"v":0.4},{"s":"T","t":16.4,"v":-0.35},{"s":"T","t":16.7,"v":0.4},{"s":"T","t":17.1,"v":-0.34},{"s":"T","t":17.3,"v":0.44},{"s":"T","t":17.7,"v":0.49},{"s":"T","t":18,"v":0.49},{"s":"T","t":18.3,"v":0.51},{"s":"T","t":18.6,"v":1},{"s":"T","t":18.8,"v":0.7},{"s":"T","t":19.1,"v":0.1},{"s":"T","t":19.3,"v":-0.13},{"s":"T","t":19.5,"v":-0.35},{"s":"T","t":19.7,"v":0.35},{"s":"T","t":20,"v":1.18},{"s":"T","t":20.2,"v":0.99},{"s":"T","t":20.6,"v":0.85},{"s":"T","t":21,"v":0.04},{"s":"T","t":21.3,"v":-0.06},{"s":"T","t":21.6,"v":0.9},{"s":"T","t":22,"v":0.8},{"s":"T","t":22.3,"v":0.8},{"s":"T","t":22.7,"v":0.8},{"s":"T","t":23.1,"v":2.5},{"s":"T","t":23.5,"v":1.56},{"s":"T","t":23.8,"v":1.47},{"s":"T","t":24.1,"v":1.23},{"s":"T","t":24.3,"v":2.13},{"s":"T","t":24.5,"v":0.9},{"s":"T","t":24.8,"v":0},{"s":"T","t":25,"v":1.47},{"s":"T","t":25.3,"v":2.23},{"s":"T","t":25.6,"v":2.23},{"s":"T","t":25.9,"v":0.47},{"s":"T","t":26.2,"v":2.04},{"s":"T","t":26.5,"v":0.51},{"s":"T","t":26.9,"v":1.8},{"s":"T","t":27.2,"v":1.75},{"s":"T","t":27.5,"v":0.38},{"s":"T","t":27.8,"v":2.13},{"s":"T","t":28,"v":1.28},{"s":"T","t":28.3,"v":0.6},{"s":"T","t":28.6,"v":2.23},{"s":"T","t":28.9,"v":0.32},{"s":"T","t":29.2,"v":2.51},{"s":"T","t":29.4,"v":2.42},{"s":"T","t":29.7,"v":1.28},{"s":"T","t":29.9,"v":0.51},{"s":"T","t":30.1,"v":0.51},{"s":"T","t":30.5,"v":0.51},{"s":"T","t":30.7,"v":2.42},{"s":"T","t":31.1,"v":2.42},{"s":"T","t":31.4,"v":2.75},{"s":"T","t":31.7,"v":0.51},{"s":"T","t":32,"v":2.42},{"s":"T","t":32.2,"v":0.51},{"s":"T","t":32.5,"v":2.37},{"s":"T","t":32.8,"v":0.51},{"s":"T","t":33.1,"v":0.51},{"s":"T","t":33.4,"v":2.32},{"s":"T","t":33.6,"v":0.51},{"s":"T","t":34,"v":1.75},{"s":"T","t":34.3,"v":0.6},{"s":"T","t":34.6,"v":1.66},{"s":"T","t":34.9,"v":0.8},{"s":"T","t":35.3,"v":2.0},{"s":"T","t":35.6,"v":1.56},{"s":"T","t":35.9,"v":0.23},{"s":"T","t":36.2,"v":0.23},{"s":"T","t":36.4,"v":0.94},{"s":"T","t":36.7,"v":1.27},{"s":"T","t":37,"v":0.32},{"s":"T","t":37.3,"v":0.32},{"s":"T","t":37.6,"v":0.32},{"s":"T","t":37.9,"v":-0.06},{"s":"T","t":38.1,"v":-0.35},{"s":"T","t":38.4,"v":-0.44},{"s":"T","t":38.8,"v":-0.35},{"s":"T","t":39.1,"v":-0.53},{"s":"T","t":39.4,"v":-0.44},{"s":"T","t":39.7,"v":-0.53},{"s":"T","t":40,"v":-0.3},{"s":"T","t":40.2,"v":-0.06},{"s":"T","t":40.4,"v":0.13},{"s":"T","t":40.7,"v":-1},{"s":"T","t":40.9,"v":-1.49},{"s":"T","t":41.2,"v":-0.82},{"s":"T","t":41.6,"v":-2.44},{"s":"T","t":41.9,"v":0.32},{"s":"T","t":42.1,"v":-1.1},{"s":"T","t":42.4,"v":-1.77},{"s":"T","t":42.7,"v":-1.39},{"s":"T","t":43,"v":-1.96},{"s":"T","t":43.3,"v":-2.44},{"s":"T","t":43.6,"v":-1.68},{"s":"T","t":43.8,"v":-2.34},{"s":"T","t":44.1,"v":-1.96},{"s":"T","t":44.4,"v":-2.44},{"s":"T","t":44.7,"v":-1.58},{"s":"T","t":45,"v":-2.44},{"s":"T","t":45.3,"v":-2.44},{"s":"T","t":45.6,"v":-1.2},{"s":"T","t":45.9,"v":-2.53},{"s":"T","t":46.1,"v":-0.68},{"s":"T","t":46.4,"v":-2.82},{"s":"T","t":46.6,"v":-2.34},{"s":"T","t":46.9,"v":-2.72},{"s":"T","t":47.2,"v":-1.2},{"s":"T","t":47.5,"v":-2.82},{"s":"T","t":47.8,"v":-2.82},{"s":"T","t":48,"v":-1.96},{"s":"T","t":48.2,"v":-0.91},{"s":"T","t":48.5,"v":-1.49},{"s":"T","t":48.8,"v":-0.44},{"s":"T","t":49.1,"v":-1.49},{"s":"T","t":49.3,"v":-0.82},{"s":"T","t":49.5,"v":-2.68},{"s":"T","t":49.8,"v":-0.35},{"s":"T","t":50,"v":-2.53},{"s":"T","t":50.3,"v":-0.91},{"s":"T","t":50.6,"v":-0.53},{"s":"T","t":50.8,"v":-0.35},{"s":"T","t":51.1,"v":-1.2},{"s":"T","t":51.3,"v":-2.82},{"s":"T","t":51.6,"v":0.04},{"s":"T","t":51.8,"v":-0.06},{"s":"T","t":52,"v":0.23},{"s":"T","t":52.2,"v":-0.16},{"s":"T","t":52.4,"v":-0.63},{"s":"T","t":52.6,"v":-1.3},{"s":"T","t":52.9,"v":-1.25},{"s":"T","t":53.1,"v":-1.58},{"s":"T","t":53.3,"v":-0.63},{"s":"T","t":53.5,"v":0.04},{"s":"T","t":53.7,"v":0.04},{"s":"T","t":54.4,"v":0.02},{"s":"T","t":54.8,"v":-0.35},{"s":"T","t":55,"v":0.18},{"s":"T","t":55.3,"v":0.25},{"s":"T","t":55.6,"v":0.02},{"s":"T","t":56.3,"v":0.02},{"s":"T","t":57,"v":0.01},{"s":"T","t":57.6,"v":0.02},{"s":"T","t":57.9,"v":0.23},{"s":"T","t":58.2,"v":0.02},{"s":"T","t":58.9,"v":0.02},{"s":"T","t":60,"v":0.02},
{"s":"X","t":0,"v":-0.0016},{"s":"X","t":0.3,"v":0.0004},{"s":"X","t":0.6,"v":-0.0006},{"s":"X","t":0.8,"v":0.0024},{"s":"X","t":1.2,"v":-0.0026},{"s":"X","t":1.4,"v":0.0014},{"s":"X","t":1.6,"v":-0.0036},{"s":"X","t":1.9,"v":-0.0056},{"s":"X","t":2.1,"v":-0.0026},{"s":"X","t":2.4,"v":-0.0046},{"s":"X","t":2.7,"v":-0.0016},{"s":"X","t":3,"v":-0.0056},{"s":"X","t":3.4,"v":-0.0026},{"s":"X","t":3.8,"v":-0.0036},{"s":"X","t":4.1,"v":-0.0026},{"s":"X","t":4.5,"v":-0.0042},{"s":"X","t":4.9,"v":-0.0032},{"s":"X","t":5.4,"v":-0.0036},{"s":"X","t":5.8,"v":-0.0042},{"s":"X","t":6.3,"v":-0.0036},{"s":"X","t":6.6,"v":-0.0046},{"s":"X","t":7,"v":-0.0042},{"s":"X","t":7.2,"v":0.0004},{"s":"X","t":7.5,"v":-0.0067},{"s":"X","t":7.9,"v":-0.0026},{"s":"X","t":8.2,"v":0.0034},{"s":"X","t":8.5,"v":-0.0067},{"s":"X","t":8.8,"v":-0.0006},{"s":"X","t":9.1,"v":-0.0036},{"s":"X","t":9.3,"v":-0.0006},{"s":"X","t":9.6,"v":-0.0046},{"s":"X","t":9.8,"v":-0.0026},{"s":"X","t":10,"v":0.0054},{"s":"X","t":10.3,"v":-0.0067},{"s":"X","t":10.4,"v":-0.0123},{"s":"X","t":10.7,"v":-0.0036},{"s":"X","t":10.9,"v":0.0054},{"s":"X","t":11.1,"v":-0.0056},{"s":"X","t":11.4,"v":0.0054},{"s":"X","t":11.6,"v":-0.0046},{"s":"X","t":11.8,"v":0.0064},{"s":"X","t":12.1,"v":-0.0056},{"s":"X","t":12.3,"v":0.0054},{"s":"X","t":12.5,"v":-0.0077},{"s":"X","t":12.9,"v":0.0054},{"s":"X","t":13.1,"v":-0.0067},{"s":"X","t":13.4,"v":0.0064},{"s":"X","t":13.6,"v":-0.0046},{"s":"X","t":13.8,"v":-0.0062},{"s":"X","t":14.1,"v":-0.0087},{"s":"X","t":14.3,"v":-0.0127},{"s":"X","t":14.6,"v":0.0054},{"s":"X","t":14.9,"v":-0.0067},{"s":"X","t":15.1,"v":0.0075},{"s":"X","t":15.3,"v":-0.0067},{"s":"X","t":15.6,"v":0.0075},{"s":"X","t":15.9,"v":-0.0067},{"s":"X","t":16.1,"v":0.0085},{"s":"X","t":16.4,"v":-0.0077},{"s":"X","t":16.7,"v":0.0075},{"s":"X","t":17.1,"v":-0.0087},{"s":"X","t":17.3,"v":0.0024},{"s":"X","t":17.6,"v":0.0075},{"s":"X","t":17.9,"v":-0.0036},{"s":"X","t":18,"v":-0.0187},{"s":"X","t":18.3,"v":-0.0127},{"s":"X","t":18.6,"v":-0.0087},{"s":"X","t":18.9,"v":0.0024},{"s":"X","t":19.1,"v":0.0075},{"s":"X","t":19.3,"v":0.0064},{"s":"X","t":19.6,"v":0.0034},{"s":"X","t":19.9,"v":-0.0228},{"s":"X","t":20.1,"v":-0.0197},{"s":"X","t":20.4,"v":-0.0177},{"s":"X","t":20.7,"v":-0.0157},{"s":"X","t":20.9,"v":-0.0177},{"s":"X","t":21.2,"v":0.0034},{"s":"X","t":21.5,"v":-0.0187},{"s":"X","t":21.8,"v":-0.0177},{"s":"X","t":22.1,"v":-0.0097},{"s":"X","t":22.3,"v":-0.0197},{"s":"X","t":22.6,"v":-0.0248},{"s":"X","t":22.9,"v":-0.035},{"s":"X","t":23.1,"v":-0.049},{"s":"X","t":23.4,"v":-0.029},{"s":"X","t":23.6,"v":-0.0278},{"s":"X","t":23.9,"v":-0.0308},{"s":"X","t":24.2,"v":-0.045},{"s":"X","t":24.5,"v":-0.0248},{"s":"X","t":24.7,"v":-0.0006},{"s":"X","t":25,"v":-0.0127},{"s":"X","t":25.2,"v":-0.047},{"s":"X","t":25.5,"v":-0.041},{"s":"X","t":25.8,"v":-0.0268},{"s":"X","t":26.1,"v":-0.0046},{"s":"X","t":26.4,"v":-0.0288},{"s":"X","t":26.6,"v":-0.0288},{"s":"X","t":26.9,"v":-0.048},{"s":"X","t":27.1,"v":-0.0208},{"s":"X","t":27.4,"v":-0.0127},{"s":"X","t":27.6,"v":-0.0087},{"s":"X","t":27.9,"v":-0.0369},{"s":"X","t":28.1,"v":-0.0127},{"s":"X","t":28.4,"v":-0.0107},{"s":"X","t":28.7,"v":-0.045},{"s":"X","t":29,"v":-0.0208},{"s":"X","t":29.3,"v":-0.0097},{"s":"X","t":29.5,"v":-0.0127},{"s":"X","t":29.8,"v":-0.049},{"s":"X","t":30,"v":-0.0107},{"s":"X","t":30.3,"v":-0.0107},{"s":"X","t":30.6,"v":-0.0389},{"s":"X","t":30.8,"v":-0.0107},{"s":"X","t":31.1,"v":-0.0097},{"s":"X","t":31.4,"v":-0.047},{"s":"X","t":31.7,"v":-0.0107},{"s":"X","t":32,"v":-0.0097},{"s":"X","t":32.2,"v":-0.0349},{"s":"X","t":32.5,"v":-0.0107},{"s":"X","t":32.9,"v":-0.052},{"s":"X","t":33.2,"v":-0.041},{"s":"X","t":33.5,"v":-0.0107},{"s":"X","t":33.7,"v":-0.0097},{"s":"X","t":34,"v":-0.0369},{"s":"X","t":34.3,"v":-0.0107},{"s":"X","t":34.6,"v":-0.0167},{"s":"X","t":34.9,"v":-0.0339},{"s":"X","t":35.1,"v":-0.0268},{"s":"X","t":35.4,"v":-0.0087},{"s":"X","t":35.7,"v":0.0075},{"s":"X","t":36,"v":-0.0147},{"s":"X","t":36.3,"v":-0.0107},{"s":"X","t":36.5,"v":0.0054},{"s":"X","t":36.8,"v":-0.0167},{"s":"X","t":37.1,"v":-0.0177},{"s":"X","t":37.4,"v":-0.0026},{"s":"X","t":37.7,"v":0.0054},{"s":"X","t":37.9,"v":0.0014},{"s":"X","t":38.2,"v":0.0075},{"s":"X","t":38.6,"v":0.0125},{"s":"X","t":38.8,"v":0.0105},{"s":"X","t":39.2,"v":0.0115},{"s":"X","t":39.4,"v":0.0095},{"s":"X","t":39.7,"v":0.0256},{"s":"X","t":40,"v":0.0155},{"s":"X","t":40.2,"v":0.0185},{"s":"X","t":40.5,"v":0.0236},{"s":"X","t":40.7,"v":0.0246},{"s":"X","t":41,"v":0.0236},{"s":"X","t":41.3,"v":-0.0026},{"s":"X","t":41.5,"v":0.0115},{"s":"X","t":41.7,"v":0.0155},{"s":"X","t":42,"v":0.0316},{"s":"X","t":42.1,"v":0.0155},{"s":"X","t":42.4,"v":0.0316},{"s":"X","t":42.7,"v":0.0316},{"s":"X","t":42.9,"v":0.0115},{"s":"X","t":43.1,"v":-0.0056},{"s":"X","t":43.4,"v":0.0155},{"s":"X","t":43.6,"v":0.0316},{"s":"X","t":43.9,"v":0.0316},{"s":"X","t":44.2,"v":-0.0026},{"s":"X","t":44.5,"v":0.0518},{"s":"X","t":44.8,"v":0.0568},{"s":"X","t":45,"v":0.0215},{"s":"X","t":45.2,"v":0.0075},{"s":"X","t":45.5,"v":0.0316},{"s":"X","t":45.7,"v":0.0095},{"s":"X","t":46,"v":0.0558},{"s":"X","t":46.3,"v":0.0558},{"s":"X","t":46.5,"v":0.0195},{"s":"X","t":46.8,"v":0.0155},{"s":"X","t":47.1,"v":0.0478},{"s":"X","t":47.4,"v":0.0478},{"s":"X","t":47.7,"v":0.057},{"s":"X","t":47.9,"v":0.053},{"s":"X","t":48.1,"v":0.049},{"s":"X","t":48.2,"v":0},{"s":"X","t":60,"v":0},
{"s":"Y","t":0,"v":-0.02},{"s":"Y","t":47.9,"v":-0.02},{"s":"Y","t":48.2,"v":0},{"s":"Y","t":60,"v":0},
{"s":"Z","t":0,"v":0},{"s":"Z","t":48.05,"v":0},{"s":"Z","t":48.15,"v":0.05},{"s":"Z","t":60,"v":0.05}
]
},
"spacing":5,
"align":"none",
"bounds":"full",
"resolve":{"scale":{"color":"independent"},"legend":{"color":"independent"}},
"vconcat":[
{"width":418,"height":257,"title":"a)",
 "layer":[
  {"data":{"name":"a"},"transform":[{"filter":"datum.s=='T'"}],"mark":{"type":"line","strokeWidth":1,"clip":true},
   "encoding":{"x":{"field":"t","type":"quantitative","title":"time [s]","scale":{"domain":[0,60],"nice":false},"axis":{"values":[0,10,20,30,40,50,60]}},
    "y":{"field":"v","type":"quantitative","title":"torque [Nm]","scale":{"domain":[-1,2.5],"nice":false,"zero":false},"axis":{"orient":"left","values":[-1,-0.5,0,0.5,1,1.5,2,2.5],"format":".1f","grid":true}},
    "color":{"field":"s","type":"nominal","scale":{"domain":["T","X","Y","Z"],"range":["#0000ff","#008000","#ff0000","#00ffff"]},"legend":{"labelExpr":"{'T':'torque x','X':'velocity x','Y':'velocity y','Z':'velocity z'}[datum.label]"}}}},
  {"data":{"name":"a"},"transform":[{"filter":"datum.s!='T'"}],"mark":{"type":"line","strokeWidth":1,"clip":true},
   "encoding":{"x":{"field":"t","type":"quantitative","title":"time [s]"},
    "y":{"field":"v","type":"quantitative","title":"velocity [m/s]","scale":{"domain":[-0.06,0.02],"nice":false,"zero":false},"axis":{"orient":"right","values":[-0.06,-0.05,-0.04,-0.03,-0.02,-0.01,0,0.01,0.02],"format":".2f","grid":false,"titleAngle":270}},
    "color":{"field":"s","type":"nominal"}}},
  {"data":{"name":"ph"},"transform":[{"filter":"datum.p=='a'"}],"mark":{"type":"rule","color":"#222","strokeWidth":0.8},
   "encoding":{"x":{"field":"t0","type":"quantitative","title":"time [s]"},"x2":{"field":"t1"},"y":{"field":"ay","type":"quantitative","scale":{"domain":[-1,2.5],"nice":false,"zero":false},"axis":null}}},
  {"data":{"name":"ph"},"transform":[{"filter":"datum.p=='a'"},{"fold":["t0","t1"],"as":["k","tt"]}],"mark":{"type":"point","filled":true,"color":"#222","size":14,"opacity":1},
   "encoding":{"x":{"field":"tt","type":"quantitative","title":"time [s]"},"y":{"field":"ay","type":"quantitative","scale":{"domain":[-1,2.5],"nice":false,"zero":false},"axis":null},"shape":{"field":"k","type":"nominal","scale":{"domain":["t0","t1"],"range":["triangle-left","triangle-right"]},"legend":null}}},
  {"data":{"name":"ph"},"transform":[{"filter":"datum.p=='a'"}],"mark":{"type":"text","color":"#a01c1c","font":"DejaVu Sans","fontSize":9},
   "encoding":{"x":{"field":"lx","type":"quantitative","title":"time [s]"},"y":{"field":"ly","type":"quantitative","scale":{"domain":[-1,2.5],"nice":false,"zero":false},"axis":null},"text":{"field":"n"}}}
 ],
 "resolve":{"scale":{"y":"independent"}}},
{"width":421,"height":260,"title":"b)",
 "layer":[
  {"data":{"name":"b"},"transform":[{"filter":"datum.s=='T'"}],"mark":{"type":"line","strokeWidth":1,"clip":true},
   "encoding":{"x":{"field":"t","type":"quantitative","title":"time [s]","scale":{"domain":[0,60],"nice":false},"axis":{"values":[0,10,20,30,40,50,60]}},
    "y":{"field":"v","type":"quantitative","title":"torque [Nm]","scale":{"domain":[-1.5,1],"nice":false,"zero":false},"axis":{"orient":"left","values":[-1.5,-1,-0.5,0,0.5,1],"format":".1f","grid":true}},
    "color":{"field":"s","type":"nominal","scale":{"domain":["T","X","Y","Z"],"range":["#0000ff","#008000","#ff0000","#00ffff"]},"legend":{"labelExpr":"{'T':'torque x','X':'velocity x','Y':'velocity y','Z':'velocity z'}[datum.label]"}}}},
  {"data":{"name":"b"},"transform":[{"filter":"datum.s!='T'"}],"mark":{"type":"line","strokeWidth":1,"clip":true},
   "encoding":{"x":{"field":"t","type":"quantitative","title":"time [s]"},
    "y":{"field":"v","type":"quantitative","title":"velocity [m/s]","scale":{"domain":[-0.06,0.06],"nice":false,"zero":false},"axis":{"orient":"right","values":[-0.06,-0.04,-0.02,0,0.02,0.04,0.06],"format":".2f","grid":false,"titleAngle":270}},
    "color":{"field":"s","type":"nominal"}}},
  {"data":{"name":"ph"},"transform":[{"filter":"datum.p=='b'"}],"mark":{"type":"rule","color":"#222","strokeWidth":0.8},
   "encoding":{"x":{"field":"t0","type":"quantitative","title":"time [s]"},"x2":{"field":"t1"},"y":{"field":"ay","type":"quantitative","scale":{"domain":[-1.5,1],"nice":false,"zero":false},"axis":null}}},
  {"data":{"name":"ph"},"transform":[{"filter":"datum.p=='b'"},{"fold":["t0","t1"],"as":["k","tt"]}],"mark":{"type":"point","filled":true,"color":"#222","size":14,"opacity":1},
   "encoding":{"x":{"field":"tt","type":"quantitative","title":"time [s]"},"y":{"field":"ay","type":"quantitative","scale":{"domain":[-1.5,1],"nice":false,"zero":false},"axis":null},"shape":{"field":"k","type":"nominal","scale":{"domain":["t0","t1"],"range":["triangle-left","triangle-right"]},"legend":null}}},
  {"data":{"name":"ph"},"transform":[{"filter":"datum.p=='b'"}],"mark":{"type":"text","color":"#a01c1c","font":"DejaVu Sans","fontSize":9},
   "encoding":{"x":{"field":"lx","type":"quantitative","title":"time [s]"},"y":{"field":"ly","type":"quantitative","scale":{"domain":[-1.5,1],"nice":false,"zero":false},"axis":null},"text":{"field":"n"}}}
 ],
 "resolve":{"scale":{"y":"independent"}}},
{"width":419,"height":259,"title":"c)",
 "layer":[
  {"data":{"name":"c"},"transform":[{"filter":"datum.s=='T'"}],"mark":{"type":"line","strokeWidth":1,"clip":true},
   "encoding":{"x":{"field":"t","type":"quantitative","title":"time [s]","scale":{"domain":[0,60],"nice":false},"axis":{"values":[0,10,20,30,40,50,60]}},
    "y":{"field":"v","type":"quantitative","title":"torque [Nm]","scale":{"domain":[-1.5,1.5],"nice":false,"zero":false},"axis":{"orient":"left","values":[-1.5,-1,-0.5,0,0.5,1,1.5],"format":".1f","grid":true}},
    "color":{"field":"s","type":"nominal","scale":{"domain":["T","X","Y","Z"],"range":["#0000ff","#008000","#ff0000","#00ffff"]},"legend":{"labelExpr":"{'T':'torque x','X':'velocity x','Y':'velocity y','Z':'velocity z'}[datum.label]"}}}},
  {"data":{"name":"c"},"transform":[{"filter":"datum.s!='T'"}],"mark":{"type":"line","strokeWidth":1,"clip":true},
   "encoding":{"x":{"field":"t","type":"quantitative","title":"time [s]"},
    "y":{"field":"v","type":"quantitative","title":"velocity [m/s]","scale":{"domain":[-0.07,0.09],"nice":false,"zero":false},"axis":{"orient":"right","values":[-0.06,-0.04,-0.02,0,0.02,0.04,0.06,0.08],"format":".2f","grid":false,"titleAngle":270}},
    "color":{"field":"s","type":"nominal"}}},
  {"data":{"name":"ph"},"transform":[{"filter":"datum.p=='c'"}],"mark":{"type":"rule","color":"#222","strokeWidth":0.8},
   "encoding":{"x":{"field":"t0","type":"quantitative","title":"time [s]"},"x2":{"field":"t1"},"y":{"field":"ay","type":"quantitative","scale":{"domain":[-1.5,1.5],"nice":false,"zero":false},"axis":null}}},
  {"data":{"name":"ph"},"transform":[{"filter":"datum.p=='c'"},{"fold":["t0","t1"],"as":["k","tt"]}],"mark":{"type":"point","filled":true,"color":"#222","size":14,"opacity":1},
   "encoding":{"x":{"field":"tt","type":"quantitative","title":"time [s]"},"y":{"field":"ay","type":"quantitative","scale":{"domain":[-1.5,1.5],"nice":false,"zero":false},"axis":null},"shape":{"field":"k","type":"nominal","scale":{"domain":["t0","t1"],"range":["triangle-left","triangle-right"]},"legend":null}}},
  {"data":{"name":"ph"},"transform":[{"filter":"datum.p=='c'"}],"mark":{"type":"text","color":"#a01c1c","font":"DejaVu Sans","fontSize":9},
   "encoding":{"x":{"field":"lx","type":"quantitative","title":"time [s]"},"y":{"field":"ly","type":"quantitative","scale":{"domain":[-1.5,1.5],"nice":false,"zero":false},"axis":null},"text":{"field":"n"}}}
 ],
 "resolve":{"scale":{"y":"independent"}}},
{"width":420,"height":263,"title":"d)",
 "layer":[
  {"data":{"name":"d"},"transform":[{"filter":"datum.s=='T'"}],"mark":{"type":"line","strokeWidth":1,"clip":true},
   "encoding":{"x":{"field":"t","type":"quantitative","title":"time [s]","scale":{"domain":[0,60],"nice":false},"axis":{"values":[0,10,20,30,40,50,60]}},
    "y":{"field":"v","type":"quantitative","title":"torque [Nm]","scale":{"domain":[-3.5,4],"nice":false,"zero":false},"axis":{"orient":"left","values":[-3,-2,-1,0,1,2,3,4],"format":"d","grid":true}},
    "color":{"field":"s","type":"nominal","scale":{"domain":["T","X","Y","Z"],"range":["#0000ff","#008000","#ff0000","#00ffff"]},"legend":{"labelExpr":"{'T':'torque x','X':'velocity x','Y':'velocity y','Z':'velocity z'}[datum.label]"}}}},
  {"data":{"name":"d"},"transform":[{"filter":"datum.s!='T'"}],"mark":{"type":"line","strokeWidth":1,"clip":true},
   "encoding":{"x":{"field":"t","type":"quantitative","title":"time [s]"},
    "y":{"field":"v","type":"quantitative","title":"velocity [m/s]","scale":{"domain":[-0.07,0.09],"nice":false,"zero":false},"axis":{"orient":"right","values":[-0.06,-0.04,-0.02,0,0.02,0.04,0.06,0.08],"format":".2f","grid":false,"titleAngle":270}},
    "color":{"field":"s","type":"nominal"}}},
  {"data":{"name":"ph"},"transform":[{"filter":"datum.p=='d'"}],"mark":{"type":"rule","color":"#222","strokeWidth":0.8},
   "encoding":{"x":{"field":"t0","type":"quantitative","title":"time [s]"},"x2":{"field":"t1"},"y":{"field":"ay","type":"quantitative","scale":{"domain":[-3.5,4],"nice":false,"zero":false},"axis":null}}},
  {"data":{"name":"ph"},"transform":[{"filter":"datum.p=='d'"},{"fold":["t0","t1"],"as":["k","tt"]}],"mark":{"type":"point","filled":true,"color":"#222","size":14,"opacity":1},
   "encoding":{"x":{"field":"tt","type":"quantitative","title":"time [s]"},"y":{"field":"ay","type":"quantitative","scale":{"domain":[-3.5,4],"nice":false,"zero":false},"axis":null},"shape":{"field":"k","type":"nominal","scale":{"domain":["t0","t1"],"range":["triangle-left","triangle-right"]},"legend":null}}},
  {"data":{"name":"ph"},"transform":[{"filter":"datum.p=='d'"}],"mark":{"type":"text","color":"#a01c1c","font":"DejaVu Sans","fontSize":9},
   "encoding":{"x":{"field":"lx","type":"quantitative","title":"time [s]"},"y":{"field":"ly","type":"quantitative","scale":{"domain":[-3.5,4],"nice":false,"zero":false},"axis":null},"text":{"field":"n"}}}
 ],
 "resolve":{"scale":{"y":"independent"}}}
]
}
